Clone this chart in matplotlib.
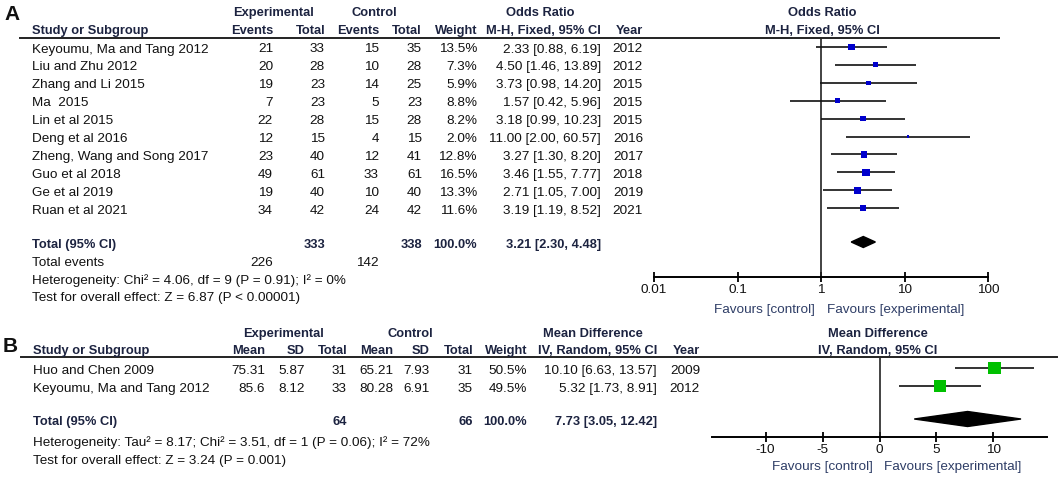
import matplotlib.pyplot as plt
from matplotlib.patches import Polygon

plt.rcParams['font.family'] = ['Liberation Sans', 'DejaVu Sans']
plt.rcParams['axes.unicode_minus'] = False

# ---- Panel A: odds ratio ----
estudios_a = ["Keyoumu, Ma and Tang 2012", "Liu and Zhu 2012", "Zhang and Li 2015", "Ma  2015",
              "Lin et al 2015", "Deng et al 2016", "Zheng, Wang and Song 2017", "Guo et al 2018",
              "Ge et al 2019", "Ruan et al 2021"]
exp_eventos = [21, 20, 19, 7, 22, 12, 23, 49, 19, 34]
exp_total = [33, 28, 23, 23, 28, 15, 40, 61, 40, 42]
ctl_eventos = [15, 10, 14, 5, 15, 4, 12, 33, 10, 24]
ctl_total = [35, 28, 25, 23, 28, 15, 41, 61, 40, 42]
peso_a = [13.5, 7.3, 5.9, 8.8, 8.2, 2.0, 12.8, 16.5, 13.3, 11.6]
or_est = [2.33, 4.50, 3.73, 1.57, 3.18, 11.00, 3.27, 3.46, 2.71, 3.19]
or_lo = [0.88, 1.46, 0.98, 0.42, 0.99, 2.00, 1.30, 1.55, 1.05, 1.19]
or_hi = [6.19, 13.89, 14.20, 5.96, 10.23, 60.57, 8.20, 7.77, 7.00, 8.52]
anio_a = [2012, 2012, 2015, 2015, 2015, 2016, 2017, 2018, 2019, 2021]
total_a = [333, 338]
eventos_tot = [226, 142]
or_total = [3.21, 2.30, 4.48]
ticks_a = [0.01, 0.1, 1, 10, 100]
etiquetas_a = ["0.01", "0.1", "1", "10", "100"]

# ---- Panel B: mean difference ----
estudios_b = ["Huo and Chen 2009", "Keyoumu, Ma and Tang 2012"]
exp_media = [75.31, 85.6]
exp_sd = [5.87, 8.12]
exp_n = [31, 33]
ctl_media = [65.21, 80.28]
ctl_sd = [7.93, 6.91]
ctl_n = [31, 35]
peso_b = [50.5, 49.5]
md_est = [10.10, 5.32]
md_lo = [6.63, 1.73]
md_hi = [13.57, 8.91]
anio_b = [2009, 2012]
total_b = [64, 66]
md_total = [7.73, 3.05, 12.42]
ticks_b = [-10, -5, 0, 5, 10]

W, H = 1059, 483
fig = plt.figure(figsize=(W / 100, H / 100), dpi=100)
ax = fig.add_axes([0, 0, 1, 1])
ax.set_xlim(0, W)
ax.set_ylim(H, 0)
ax.axis('off')

FS = 9.7      # texto normal
FSB = 9.3     # cabeceras en negrita
HEAD = '#1c2340'
FAV = '#2e3d66'


def txt(x, y, s, ha='right', bold=False, color='#111111', size=None):
    if size is None:
        size = FSB if bold else FS
    ax.text(x, y, s, ha=ha, va='center', fontsize=size,
            fontweight='bold' if bold else 'normal', color=color)


def forest_axes(x0, x1, ytop, ybot):
    a = fig.add_axes([x0 / W, 1 - ybot / H, (x1 - x0) / W, (ybot - ytop) / H])
    a.set_ylim(ybot, ytop)
    a.patch.set_alpha(0)
    for s in ['top', 'left', 'right']:
        a.spines[s].set_visible(False)
    a.spines['bottom'].set_linewidth(1.4)
    a.tick_params(axis='x', direction='inout', length=7, width=1.3, pad=1.5,
                  labelsize=FS, labelcolor='#111111')
    a.tick_params(axis='y', left=False, labelleft=False)
    return a


# ================= Panel A =================
txt(4, 14, "A", ha='left', bold=True, size=15)
txt(273, 13, "Experimental", ha='center', bold=True, color=HEAD)
txt(374, 13, "Control", ha='center', bold=True, color=HEAD)
txt(540, 13, "Odds Ratio", ha='center', bold=True, color=HEAD)
txt(822, 13, "Odds Ratio", ha='center', bold=True, color=HEAD)
txt(32, 31, "Study or Subgroup", ha='left', bold=True, color=HEAD)
for x, s in [(273, "Events"), (325, "Total"), (379, "Events"), (422, "Total"),
             (477, "Weight"), (601, "M-H, Fixed, 95% CI"), (643, "Year")]:
    txt(x, 31, s, bold=True, color=HEAD)
txt(822, 31, "M-H, Fixed, 95% CI", ha='center', bold=True, color=HEAD)
ax.plot([20, 999], [38, 38], color='#222222', lw=1.4)

filas_a = [47 + 17.9 * i for i in range(len(estudios_a))]
for i, y in enumerate(filas_a):
    yt = y + 2.5
    txt(32, yt, estudios_a[i], ha='left')
    txt(273, yt, str(exp_eventos[i]))
    txt(325, yt, str(exp_total[i]))
    txt(379, yt, str(ctl_eventos[i]))
    txt(422, yt, str(ctl_total[i]))
    txt(477, yt, f"{peso_a[i]:.1f}%")
    txt(601, yt, f"{or_est[i]:.2f} [{or_lo[i]:.2f}, {or_hi[i]:.2f}]")
    txt(643, yt, str(anio_a[i]))

y_tot_a = 242
txt(32, y_tot_a + 3, "Total (95% CI)", ha='left', bold=True, color=HEAD)
txt(325, y_tot_a + 3, str(total_a[0]), bold=True, color=HEAD)
txt(422, y_tot_a + 3, str(total_a[1]), bold=True, color=HEAD)
txt(477, y_tot_a + 3, "100.0%", bold=True, color=HEAD)
txt(601, y_tot_a + 3, f"{or_total[0]:.2f} [{or_total[1]:.2f}, {or_total[2]:.2f}]", bold=True, color=HEAD)
txt(32, 263, "Total events", ha='left')
txt(273, 263, str(eventos_tot[0]))
txt(379, 263, str(eventos_tot[1]))
txt(32, 281, "Heterogeneity: Chi\u00b2 = 4.06, df = 9 (P = 0.91); I\u00b2 = 0%", ha='left')
txt(32, 298, "Test for overall effect: Z = 6.87 (P < 0.00001)", ha='left')

axA = forest_axes(654, 988, 38, 277)
axA.set_xscale('log')
axA.set_xlim(0.01, 100)
axA.set_xticks(ticks_a)
axA.set_xticklabels(etiquetas_a)
axA.minorticks_off()
axA.axvline(1, color='#222222', lw=1.2)
axA.hlines(filas_a, or_lo, or_hi, color='#111111', lw=1.2, clip_on=False)
lados = [(7.5 * (w / 16.5) ** 0.5 * 0.72) ** 2 for w in peso_a]
axA.scatter(or_est, filas_a, s=lados, marker='s', color='#0000cc', linewidths=0, zorder=3, clip_on=False)
axA.add_patch(Polygon([(or_total[1], y_tot_a), (or_total[0], y_tot_a - 5.5),
                       (or_total[2], y_tot_a), (or_total[0], y_tot_a + 5.5)],
                      closed=True, color='black', clip_on=False))
txt(815, 310, "Favours [control]", color=FAV)
txt(827, 310, "Favours [experimental]", ha='left', color=FAV)

# ================= Panel B =================
txt(3, 347, "B", ha='left', bold=True, size=15)
txt(284, 334, "Experimental", ha='center', bold=True, color=HEAD)
txt(410, 334, "Control", ha='center', bold=True, color=HEAD)
txt(593, 334, "Mean Difference", ha='center', bold=True, color=HEAD)
txt(878, 334, "Mean Difference", ha='center', bold=True, color=HEAD)
txt(33, 351, "Study or Subgroup", ha='left', bold=True, color=HEAD)
for x, s in [(265, "Mean"), (305, "SD"), (347, "Total"), (393, "Mean"), (430, "SD"),
             (473, "Total"), (527, "Weight"), (657, "IV, Random, 95% CI"), (700, "Year")]:
    txt(x, 351, s, bold=True, color=HEAD)
txt(878, 351, "IV, Random, 95% CI", ha='center', bold=True, color=HEAD)
ax.plot([21, 1057], [357, 357], color='#222222', lw=1.4)

filas_b = [368, 386]
for i, y in enumerate(filas_b):
    yt = y + 3
    txt(33, yt, estudios_b[i], ha='left')
    txt(265, yt, f"{exp_media[i]:g}")
    txt(305, yt, f"{exp_sd[i]:g}")
    txt(347, yt, str(exp_n[i]))
    txt(393, yt, f"{ctl_media[i]:g}")
    txt(430, yt, f"{ctl_sd[i]:g}")
    txt(473, yt, str(ctl_n[i]))
    txt(527, yt, f"{peso_b[i]:.1f}%")
    txt(657, yt, f"{md_est[i]:.2f} [{md_lo[i]:.2f}, {md_hi[i]:.2f}]")
    txt(700, yt, str(anio_b[i]))

y_tot_b = 419
txt(33, y_tot_b + 3, "Total (95% CI)", ha='left', bold=True, color=HEAD)
txt(347, y_tot_b + 3, str(total_b[0]), bold=True, color=HEAD)
txt(473, y_tot_b + 3, str(total_b[1]), bold=True, color=HEAD)
txt(527, y_tot_b + 3, "100.0%", bold=True, color=HEAD)
txt(657, y_tot_b + 3, f"{md_total[0]:.2f} [{md_total[1]:.2f}, {md_total[2]:.2f}]", bold=True, color=HEAD)
txt(33, 443, "Heterogeneity: Tau\u00b2 = 8.17; Chi\u00b2 = 3.51, df = 1 (P = 0.06); I\u00b2 = 72%", ha='left')
txt(33, 461, "Test for overall effect: Z = 3.24 (P = 0.001)", ha='left')

axB = forest_axes(712, 1047, 358, 437)
axB.set_xlim(-14.7, 14.7)
axB.set_xticks(ticks_b)
axB.axvline(0, color='#222222', lw=1.2)
axB.hlines(filas_b, md_lo, md_hi, color='#111111', lw=1.2, clip_on=False)
lados_b = [(12.2 * (w / 50.5) ** 0.5 * 0.72) ** 2 for w in peso_b]
axB.scatter(md_est, filas_b, s=lados_b, marker='s', color='#00c000', linewidths=0, zorder=3, clip_on=False)
axB.add_patch(Polygon([(md_total[1], y_tot_b), (md_total[0], y_tot_b - 7.5),
                       (md_total[2], y_tot_b), (md_total[0], y_tot_b + 7.5)],
                      closed=True, color='black', clip_on=False))
txt(873, 467, "Favours [control]", color=FAV)
txt(884, 467, "Favours [experimental]", ha='left', color=FAV)

fig.savefig("out.png", dpi=100)
